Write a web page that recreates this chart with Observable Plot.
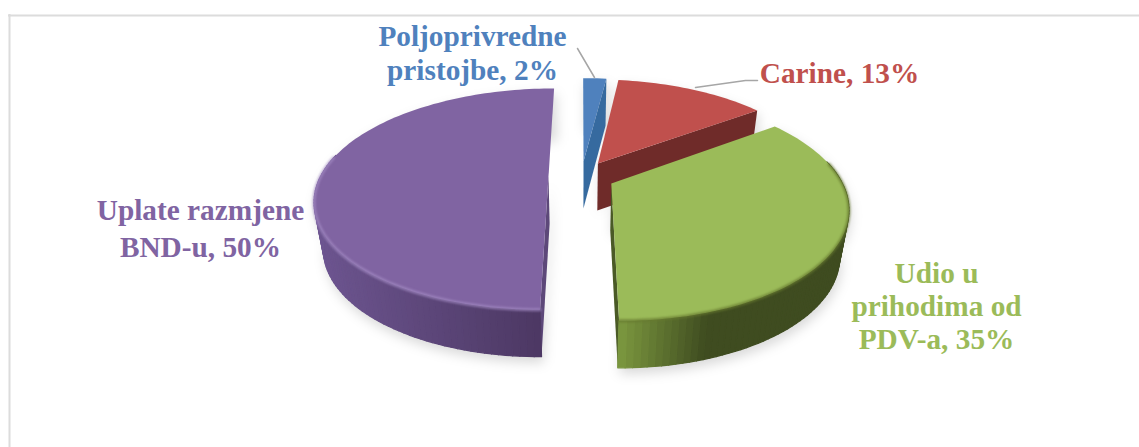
<!DOCTYPE html>
<html><head><meta charset="utf-8">
<style>html,body{margin:0;padding:0;background:#fff}svg{display:block}</style>
<script src="https://cdn.jsdelivr.net/npm/d3@7"></script>
<script src="https://cdn.jsdelivr.net/npm/@observablehq/plot@0.6"></script>
</head><body><script>
const categories = ["Uplate razmjene BND-u","Poljoprivredne pristojbe","Carine","Udio u prihodima od PDV-a"];
const shares = [50,2,13,35];
const topColors = ["#8064a2","#4f81bd","#c0504d","#9bbb59"];
const wallLight = ["#6d5590","#3f6ea3","#7a2f2d","#7c983f"];
const wallDark = ["#4a3660","#2f5480","#652523","#3f4c20"];
const labels = ["Uplate razmjene\nBND-u, 50%","Poljoprivredne\npristojbe, 2%","Carine, 13%","Udio u\nprihodima od\nPDV-a, 35%"];

// scene parameters
const W=1139,H=447,X0=581,Y0=176,R=228,K=0.465,P=0.204,EXPL=33,DEPTH=47,SHRINK=0.035;
const rad=d=>d*Math.PI/180;
function proj(px,py,down){ // px,py in pie plane (py toward back)
  const s=1/(1+P*py/R), f=down?1-SHRINK:1;
  return {x:X0+px*s*f,y:Y0-K*py*s+(down?DEPTH:0)};
}
// slice angles derive from the shares
let acc=180;
const slices=shares.map((v,i)=>{const a0=acc,a1=acc+v*3.6;acc=a1;const mid=(a0+a1)/2;
  return {i,a0,a1,ox:EXPL*Math.sin(rad(mid)),oy:EXPL*Math.cos(rad(mid))};});
const rim=(s,a,down)=>proj(s.ox+R*Math.sin(rad(a)),s.oy+R*Math.cos(rad(a)),down);
const apex=(s,down)=>proj(s.ox,s.oy,down);
const steps=s=>{const n=Math.max(2,Math.ceil((s.a1-s.a0)/1.5));return d3.range(n+1).map(j=>s.a0+(s.a1-s.a0)*j/n);};

function topFace(s){return [apex(s,false),...steps(s).map(a=>rim(s,a,false))];}
function cutFace(s,a){return [apex(s,false),rim(s,a,false),rim(s,a,true),apex(s,true)];}
function outline(s){ // silhouette for shadows
  return [...topFace(s),...steps(s).slice().reverse().map(a=>rim(s,a,true)),apex(s,true)];
}
function wallCells(s){
  const out=[];const as=steps(s);
  const c=d3.interpolateRgb(wallLight[s.i],wallDark[s.i]);
  const xs=as.map(a=>rim(s,a,false).x);const lo=d3.min(xs),hi=d3.max(xs);
  for(let j=0;j<as.length-1;j++){
    const a=rim(s,as[j],false),b=rim(s,as[j+1],false),c2=rim(s,as[j+1],true),d=rim(s,as[j],true);
    const m=(as[j]+as[j+1])/2;
    if(Math.cos(rad(m))>0.2) continue; // only walls facing the viewer
    let t=(((a.x+b.x)/2)-lo)/(hi-lo||1);
    if(s.i===3) t=Math.min(1,t*2.6); // green darkens quickly from its inner end
    const fill=c(t);
    [a,b,c2,d].forEach(p=>out.push({...p,cell:s.i*1000+j,fill}));
  }
  return out;
}
const polygon=(pts,opts)=>Plot.line(pts,{x:"x",y:"y",curve:"linear-closed",strokeWidth:0,stroke:"none",...opts});
const order=[1,2,0,3];
const marks=[
  Plot.ruleY([15],{x1:8,x2:W,stroke:"#dcdcdc",strokeWidth:2}),
  Plot.ruleX([9],{y1:14,y2:H,stroke:"#dcdcdc",strokeWidth:2})
];
// shadows
order.forEach(i=>{
  const pts=outline(slices[i]).map(p=>({x:p.x+2,y:p.y+6}));
  marks.push(polygon(pts,{fill:"#000",fillOpacity:0.15,imageFilter:"blur(6px)"}));
});
order.forEach(i=>{
  const s=slices[i];
  // cut faces that can be seen
  const cut=i===0?[s.a0]:i===3?[s.a1]:[s.a1];
  const col=i===0?"#5d4879":i===1?"#366a9f":i===2?"#6f2b29":"#4a5a26";
  cut.forEach(a=>marks.push(polygon(cutFace(s,a),{fill:col})));
  const cells=wallCells(s);
  if(cells.length) marks.push(Plot.line(cells,{x:"x",y:"y",z:"cell",fill:"fill",stroke:"fill",strokeWidth:1.3,curve:"linear-closed"}));
  marks.push(polygon(topFace(s),{fill:topColors[i]}));
  // bevel along the front rim
  const front=steps(s).filter(a=>Math.cos(rad(a))<0.2).map(a=>rim(s,a,false));
  if(i===0) marks.push(Plot.line(front,{x:"x",y:"y",stroke:"#a48cc4",strokeWidth:3,strokeOpacity:0.7,imageFilter:"blur(1.2px)"}));
  if(i===3) marks.push(Plot.line(front,{x:"x",y:"y",stroke:"#66782f",strokeWidth:3,strokeOpacity:0.75,imageFilter:"blur(1.2px)"}));
});
// leader lines
const leaderX=[[577,594],[695,745,757]];
const leaderY=[[48,77],[87,80,80]];
leaderX.forEach((xs,i)=>marks.push(Plot.line(xs.map((x,j)=>({x,y:leaderY[i][j]})),{x:"x",y:"y",stroke:"#a6a6a6",strokeWidth:1.5})));
// labels
const labelX=[200,472,839,936];
const labelY=[226.5,51.5,71,305];
const labelLead=[1.26,1.18,1.2,1.12];
labels.forEach((t,i)=>marks.push(Plot.text([t],{x:()=>labelX[i],y:()=>labelY[i],text:d=>d,fill:topColors[i],fontSize:29.3,fontWeight:"bold",fontFamily:"Liberation Serif",lineHeight:labelLead[i],textAnchor:"middle"})));

document.body.append(Plot.plot({width:W,height:H,marginTop:0,marginRight:0,marginBottom:0,marginLeft:0,
  x:{domain:[0,W],range:[0,W],axis:null},y:{domain:[0,H],range:[0,H],axis:null},
  color:{type:"identity"},style:{background:"#fff"},marks}));
</script></body></html>
